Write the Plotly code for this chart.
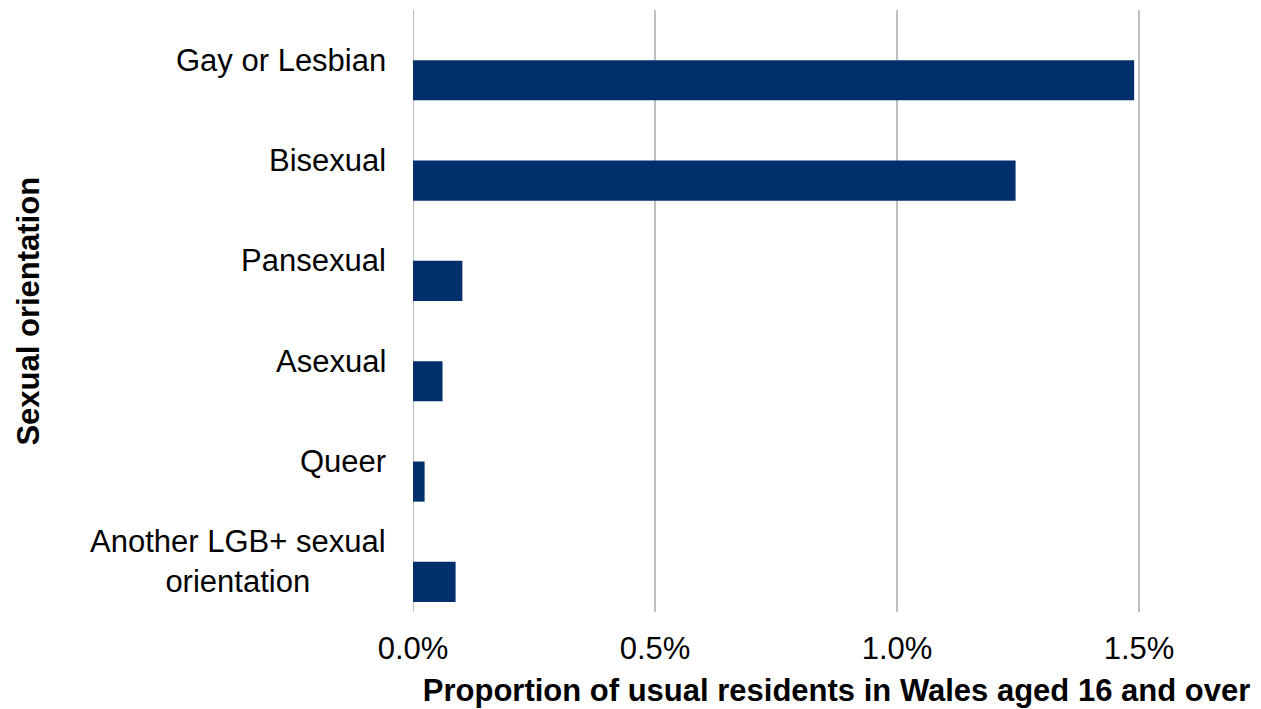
import plotly.graph_objects as go

categories = ["Gay or Lesbian", "Bisexual", "Pansexual", "Asexual", "Queer",
              "Another LGB+ sexual<br>orientation"]
values = [0.01490, 0.01245, 0.00102, 0.00061, 0.00024, 0.00088]
x_ticks = [0, 0.005, 0.01, 0.015]
x_tick_labels = ["0.0%", "0.5%", "1.0%", "1.5%"]

FONT = "Liberation Sans, Arial, sans-serif"
NAVY = "#002F6C"
GRID = "#BFBFBF"
FS = 31

positions = list(range(len(categories)))

fig = go.Figure()
fig.add_trace(go.Bar(
    y=positions, x=values, orientation="h",
    marker=dict(color=NAVY, line=dict(width=0)),
    width=0.4, offset=0.0,
    hoverinfo="x",
))

for p, c in zip(positions, categories):
    fig.add_annotation(
        x=0, xref="paper", y=p, yref="y",
        text=c, showarrow=False, xanchor="right", yanchor="middle",
        align="center", xshift=-25,
        font=dict(family=FONT, size=FS, color="#000000"),
    )

fig.add_annotation(
    x=-0.455, xref="paper", y=0.5, yref="paper",
    text="<b>Sexual orientation</b>", showarrow=False, textangle=-90,
    xanchor="center", yanchor="middle", borderpad=0,
    font=dict(family=FONT, size=FS, color="#000000"),
)

# page body has an 8px default margin, so the figure is sized to fit the window
fig.update_layout(
    width=1253, height=701,
    margin=dict(l=405, r=1, t=2, b=97),
    paper_bgcolor="white", plot_bgcolor="white",
    showlegend=False,
    font=dict(family=FONT, size=FS, color="#000000"),
    xaxis=dict(
        range=[0, 0.0175],
        tickvals=x_ticks, ticktext=x_tick_labels,
        showgrid=True, gridcolor=GRID, gridwidth=2,
        zeroline=False, showline=False, ticks="",
        ticklabelstandoff=15,
        tickfont=dict(family=FONT, size=FS, color="#000000"),
        title=dict(text="<b>Proportion of usual residents in Wales aged 16 and over</b>",
                   font=dict(family=FONT, size=FS, color="#000000"), standoff=14),
    ),
    yaxis=dict(
        range=[5.5, -0.5],
        showticklabels=False, showgrid=False, zeroline=False,
        showline=False, ticks="",
    ),
)

fig.add_shape(type="line", xref="x", yref="paper", x0=0, x1=0, y0=0, y1=1,
              line=dict(color=GRID, width=2), layer="below")

fig.write_html("out.html")
